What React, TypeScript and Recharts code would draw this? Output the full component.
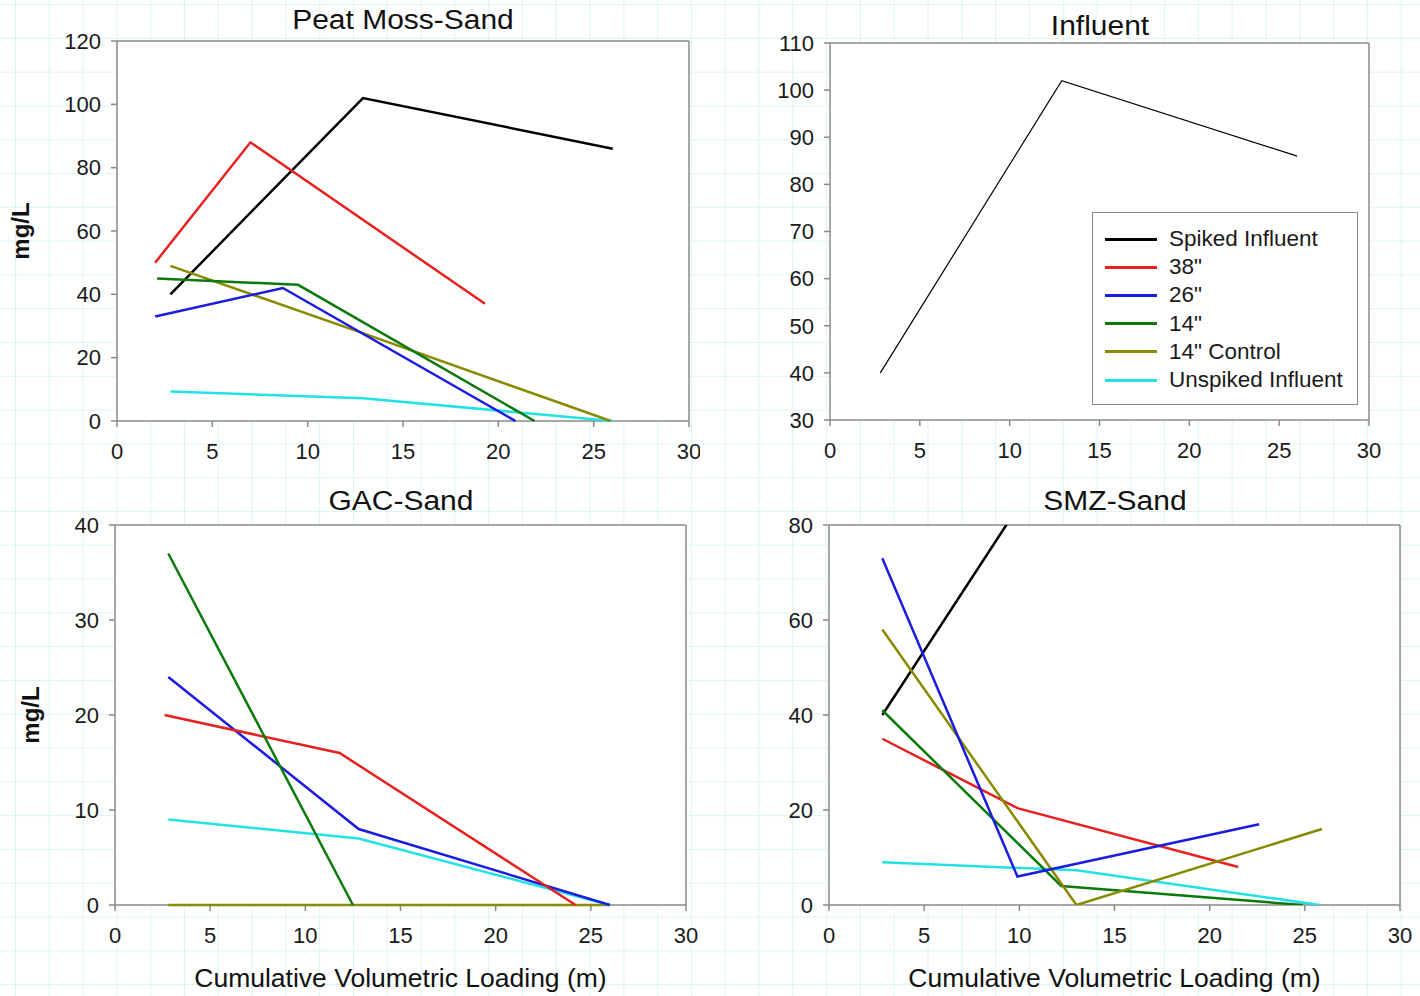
import React from "react"
import {
  CartesianGrid,
  Label,
  Legend,
  Line,
  LineChart,
  ReferenceLine,
  XAxis,
  YAxis,
} from "recharts"

type Pt = [number, number]

// shared axis ticks
const xTicks = [0, 5, 10, 15, 20, 25, 30]
const peatTicks = [0, 20, 40, 60, 80, 100, 120]
const influentTicks = [30, 40, 50, 60, 70, 80, 90, 100, 110]
const gacTicks = [0, 10, 20, 30, 40]
const smzTicks = [0, 20, 40, 60, 80]

const seriesNames = [
  "Spiked Influent",
  "38\"",
  "26\"",
  "14\"",
  "14\" Control",
  "Unspiked Influent",
]
const seriesColors = ["#000000", "#e8201e", "#1c1ce0", "#0b7a0b", "#8a8a00", "#22e2e6"]

// Peat Moss-Sand (x = cumulative loading, y = mg/L)
const spikedInfluent: Pt[] = [[2.8, 40], [12.9, 102], [26, 86]]
const peat38: Pt[] = [[2, 50], [7, 88], [19.3, 37]]
const peat26: Pt[] = [[2, 33], [8.7, 42], [20.9, 0]]
const peat14: Pt[] = [[2.1, 45], [9.5, 43], [21.9, 0]]
const peatControl: Pt[] = [[2.8, 49], [13, 27.5], [25.9, 0]]
const peatUnspiked: Pt[] = [[2.8, 9.3], [12.9, 7.2], [26, 0]]

// GAC-Sand
const gac38: Pt[] = [[2.6, 20], [11.8, 16], [24.2, 0]]
const gac26: Pt[] = [[2.8, 24], [12.8, 8], [26, 0]]
const gac14: Pt[] = [[2.8, 37], [12.5, 0]]
const gacControl: Pt[] = [[2.8, 0], [12.9, 0], [26, 0]]
const gacUnspiked: Pt[] = [[2.8, 9], [12.8, 7], [26, 0]]

// SMZ-Sand
const smz38: Pt[] = [[2.8, 35], [9.9, 20.4], [21.5, 8]]
const smz26: Pt[] = [[2.8, 73], [9.9, 6], [22.6, 17]]
const smz14: Pt[] = [[2.8, 41], [12.2, 4], [24.9, 0]]
const smzControl: Pt[] = [[2.8, 58], [13, 0], [25.9, 16]]
const smzUnspiked: Pt[] = [[2.8, 9], [13, 7.3], [25.8, 0]]

const toPoints = (pts: Pt[]) => pts.map(([x, y]) => ({ x, y }))

const FONT = "'Liberation Sans', Arial, sans-serif"
const AXIS = "#8a8a8a"

interface SeriesDef {
  idx: number
  pts: Pt[]
}

interface PanelProps {
  left: number
  top: number
  width: number
  height: number
  plot: { left: number; right: number; top: number; bottom: number }
  yDomain: [number, number]
  yTicks: number[]
  series: SeriesDef[]
  title: string
  titleY: number
  yLabel?: { x: number }
  xLabel?: { y: number }
  strokeWidth?: number
  legend?: { x: number; y: number; w: number; h: number }
  clip?: boolean
}

const LegendBox = () => (
  <div
    style={{
      width: 266,
      height: 193,
      boxSizing: "border-box",
      border: `1.5px solid ${AXIS}`,
      background: "#fff",
      paddingTop: 12,
      fontFamily: FONT,
      fontSize: 22.5,
      color: "#1a1a1a",
    }}
  >
    {seriesNames.map((name, i) => (
      <div
        key={name}
        style={{ display: "flex", alignItems: "center", height: 28.2 }}
      >
        <div
          style={{
            width: 52,
            height: 3,
            marginLeft: 12,
            marginRight: 12,
            background: seriesColors[i],
          }}
        />
        <span>{name}</span>
      </div>
    ))}
  </div>
)

const Panel = ({
  left,
  top,
  width,
  height,
  plot,
  yDomain,
  yTicks,
  series,
  title,
  titleY,
  yLabel,
  xLabel,
  strokeWidth = 2.5,
  legend,
  clip,
}: PanelProps) => {
  const plotCx = (plot.left + plot.right) / 2
  const plotCy = (plot.top + plot.bottom) / 2
  return (
    <div style={{ position: "absolute", left, top, width, height }}>
      <div
        style={{
          position: "absolute",
          left: plotCx - 200,
          width: 400,
          top: titleY - 16,
          height: 32,
          lineHeight: "32px",
          textAlign: "center",
          fontFamily: FONT,
          fontSize: 27,
          color: "#111",
          transform: "scaleX(1.11)",
        }}
      >
        {title}
      </div>
      <LineChart
        width={width}
        height={height}
        margin={{ top: plot.top, right: width - plot.right, bottom: 0, left: 0 }}
        style={{ position: "absolute", left: 0, top: 0 }}
      >
        <CartesianGrid horizontal={false} vertical={false} fill="#ffffff" fillOpacity={1} />
        <XAxis
          type="number"
          dataKey="x"
          domain={[0, 30]}
          ticks={xTicks}
          height={height - plot.bottom}
          stroke={AXIS}
          strokeWidth={1.5}
          tickSize={6}
          tickMargin={16}
          tick={{ fill: "#1a1a1a", fontSize: 22, fontFamily: FONT }}
          interval={0}
        >
          {xLabel && (
            <Label
              content={() => (
                <text
                  x={plotCx}
                  y={xLabel.y}
                  textAnchor="middle"
                  dominantBaseline="central"
                  fontFamily={FONT}
                  fontSize={26.5}
                  fill="#111"
                >
                  Cumulative Volumetric Loading (m)
                </text>
              )}
            />
          )}
        </XAxis>
        <YAxis
          type="number"
          dataKey="y"
          domain={yDomain}
          ticks={yTicks}
          allowDataOverflow={clip}
          width={plot.left}
          stroke={AXIS}
          strokeWidth={1.5}
          tickSize={6}
          tickMargin={10}
          tick={{ fill: "#1a1a1a", fontSize: 22, fontFamily: FONT }}
          interval={0}
        >
          {yLabel && (
            <Label
              content={() => (
                <text
                  x={yLabel.x}
                  y={plotCy}
                  transform={`rotate(-90, ${yLabel.x}, ${plotCy})`}
                  textAnchor="middle"
                  dominantBaseline="central"
                  fontFamily={FONT}
                  fontSize={24}
                  fontWeight="bold"
                  fill="#111"
                >
                  mg/L
                </text>
              )}
            />
          )}
        </YAxis>
        <ReferenceLine y={yDomain[1]} stroke={AXIS} strokeWidth={1.5} />
        <ReferenceLine x={30} stroke={AXIS} strokeWidth={1.5} />
        {series.map((s) => (
          <Line
            key={s.idx}
            data={toPoints(s.pts)}
            dataKey="y"
            name={seriesNames[s.idx]}
            type="linear"
            stroke={seriesColors[s.idx]}
            strokeWidth={strokeWidth}
            dot={false}
            activeDot={false}
            isAnimationActive={false}
            zIndex={800}
          />
        ))}
        {legend && (
          <Legend
            layout="vertical"
            align="center"
            verticalAlign="middle"
            content={() => <LegendBox />}
            wrapperStyle={{
              position: "absolute",
              left: legend.x,
              top: legend.y,
              width: legend.w,
              height: legend.h,
            }}
          />
        )}
      </LineChart>
    </div>
  )
}

export default function App() {
  return (
    <div
      style={{
        position: "absolute",
        left: 0,
        top: 0,
        width: 1420,
        height: 996,
        overflow: "hidden",
        backgroundColor: "#ffffff",
        backgroundImage:
          "linear-gradient(to right, #dcf4f0 1px, transparent 1px), linear-gradient(to bottom, #dcf4f0 1px, transparent 1px)",
        backgroundSize: "33.8px 33.8px",
        backgroundPosition: "15px 4px",
      }}
    >
      <Panel
        left={0}
        top={0}
        width={700}
        height={470}
        plot={{ left: 117, right: 689, top: 41, bottom: 421 }}
        yDomain={[0, 120]}
        yTicks={peatTicks}
        title="Peat Moss-Sand"
        titleY={20}
        yLabel={{ x: 20 }}
        series={[
          { idx: 0, pts: spikedInfluent },
          { idx: 1, pts: peat38 },
          { idx: 5, pts: peatUnspiked },
          { idx: 4, pts: peatControl },
          { idx: 3, pts: peat14 },
          { idx: 2, pts: peat26 },
        ]}
      />
      <Panel
        left={710}
        top={0}
        width={710}
        height={470}
        plot={{ left: 120, right: 659, top: 43, bottom: 420 }}
        yDomain={[30, 110]}
        yTicks={influentTicks}
        title="Influent"
        titleY={26}
        strokeWidth={1.2}
        legend={{ x: 382, y: 212, w: 266, h: 193 }}
        series={[{ idx: 0, pts: spikedInfluent }]}
      />
      <Panel
        left={0}
        top={480}
        width={710}
        height={516}
        plot={{ left: 115, right: 686, top: 45, bottom: 425 }}
        yDomain={[0, 40]}
        yTicks={gacTicks}
        title="GAC-Sand"
        titleY={21}
        yLabel={{ x: 30 }}
        xLabel={{ y: 498 }}
        series={[
          { idx: 4, pts: gacControl },
          { idx: 5, pts: gacUnspiked },
          { idx: 2, pts: gac26 },
          { idx: 1, pts: gac38 },
          { idx: 3, pts: gac14 },
        ]}
      />
      <Panel
        left={710}
        top={480}
        width={710}
        height={516}
        plot={{ left: 119, right: 690, top: 45, bottom: 425 }}
        yDomain={[0, 80]}
        yTicks={smzTicks}
        title="SMZ-Sand"
        titleY={21}
        xLabel={{ y: 498 }}
        clip
        series={[
          { idx: 0, pts: spikedInfluent },
          { idx: 5, pts: smzUnspiked },
          { idx: 1, pts: smz38 },
          { idx: 3, pts: smz14 },
          { idx: 4, pts: smzControl },
          { idx: 2, pts: smz26 },
        ]}
      />
    </div>
  )
}
